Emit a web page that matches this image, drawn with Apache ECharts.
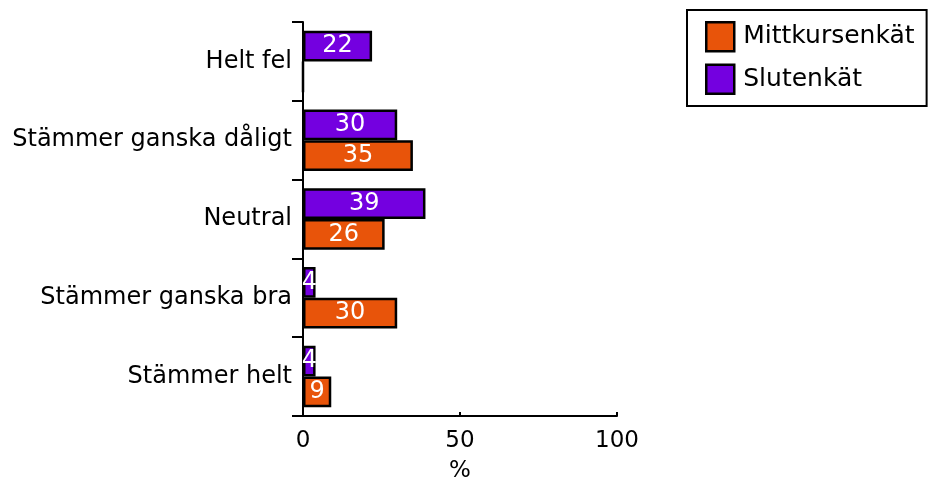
<!DOCTYPE html>
<html><head><meta charset="utf-8">
<script src="https://cdn.jsdelivr.net/npm/echarts@6/dist/echarts.min.js"></script>
<style>html,body{margin:0;padding:0;background:#fff}#c{width:933px;height:482px}</style>
</head><body><div id="c"></div>
<script>
const categories = ['Stämmer helt', 'Stämmer ganska bra', 'Neutral', 'Stämmer ganska dåligt', 'Helt fel'];
const mittkurs = [9, 30, 26, 35, 0];
const sluten = [4, 4, 39, 30, 22];
const xTicks = [0, 50, 100];
const seriesNames = ['Mittkursenkät', 'Slutenkät'];

const font = 'DejaVu Sans';
const chart = echarts.init(document.getElementById('c'), null, {renderer: 'canvas'});
const lbl = {
  show: true, position: 'inside', color: '#fff', fontFamily: font, fontSize: 24,
  formatter: p => p.value === 0 ? '' : String(p.value)
};
chart.setOption({
  animation: false,
  textStyle: {fontFamily: font},
  grid: {left: 303, top: 22, width: 314, height: 394, containLabel: false, outerBoundsMode: 'none'},
  legend: {
    orient: 'vertical', left: 687, top: 10,
    data: seriesNames,
    itemWidth: 28, itemHeight: 29, itemGap: 11,
    padding: [11, 12, 11, 18],
    borderColor: '#000', borderWidth: 2,
    textStyle: {fontFamily: font, fontSize: 25, color: '#000', padding: [4, 0, 0, 4]},
    itemStyle: {borderColor: '#000', borderWidth: 2.5},
    icon: 'rect'
  },
  xAxis: {
    type: 'value', min: 0, max: 100, interval: 50,
    name: '%', nameLocation: 'middle', nameGap: 44,
    nameTextStyle: {fontFamily: font, fontSize: 23, color: '#000'},
    axisLine: {show: true, lineStyle: {color: '#000', width: 2}},
    axisTick: {show: true, inside: true, length: 4, lineStyle: {color: '#000', width: 2}},
    axisLabel: {fontFamily: font, fontSize: 23, color: '#000', margin: 14,
      formatter: v => xTicks.includes(v) ? String(v) : ''},
    splitLine: {show: false}
  },
  yAxis: {
    type: 'category', data: categories,
    axisLine: {show: true, lineStyle: {color: '#000', width: 2}},
    axisTick: {show: true, length: 11, lineStyle: {color: '#000', width: 2}},
    axisLabel: {fontFamily: font, fontSize: 24, color: '#000', margin: 11}
  },
  series: [
    {name: seriesNames[1], type: 'bar', data: sluten, barGap: '0%', barCategoryGap: '22%',
      itemStyle: {color: '#7400E0', borderColor: '#000', borderWidth: 2.5}, label: lbl},
    {name: seriesNames[0], type: 'bar', data: mittkurs, barGap: '0%', barCategoryGap: '22%',
      itemStyle: {color: '#E8540A', borderColor: '#000', borderWidth: 2.5}, label: lbl}
  ]
});
</script></body></html>
